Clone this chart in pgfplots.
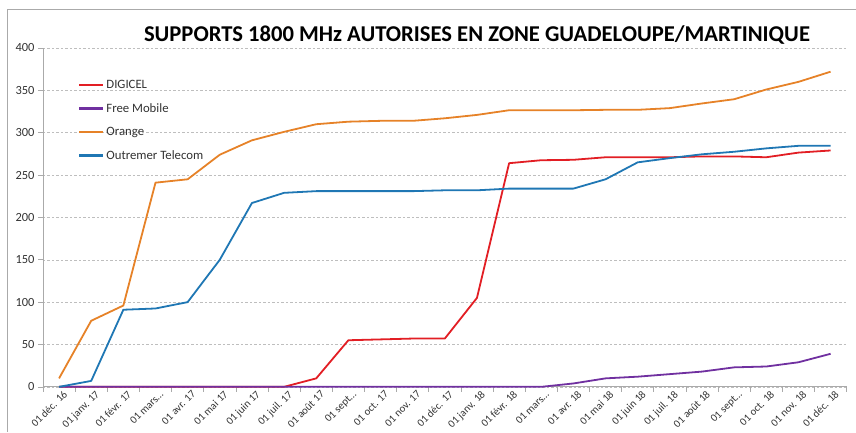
\documentclass[border=0pt]{standalone}
\usepackage{pgfplots}
\pgfplotsset{compat=1.18}
\usepackage{fontspec}
\setmainfont{Carlito}
\usetikzlibrary{calc}
\definecolor{cDig}{RGB}{226,30,36}
\definecolor{cFree}{RGB}{112,48,160}
\definecolor{cOr}{RGB}{230,130,40}
\definecolor{cOut}{RGB}{31,119,180}
\definecolor{cAx}{RGB}{170,170,170}
\definecolor{cGrid}{RGB}{190,190,190}
\definecolor{cTxt}{RGB}{50,50,50}
\pgfplotstableread{
i dig free or out
0 0 0 10 0
1 0 0 78 7
2 0 0 96 91
3 0 0 241 92.5
4 0 0 245 100
5 0 0 274 150
6 0 0 291 217
7 0 0 301 229
8 10 0 310 231
9 55 0 313 231
10 56 0 314 231
11 57 0 314 231
12 57 0 317 232
13 105 0 321 232
14 264 0 326.5 234
15 267.5 0 326.5 234
16 268 4 326.5 234
17 271 10 327 245
18 271 12 327 265
19 271 15 329 270
20 272 18 334.5 274.5
21 272 23 339.5 277.5
22 271 24 351 281.5
23 276.5 29 360 284.5
24 279 39 372 284.5
}\data
\begin{document}
\begin{tikzpicture}
\begin{axis}[
  scale only axis,
  width=804bp, height=339bp,
  xmin=-0.5, xmax=24.5,
  ymin=0, ymax=400,
  ytick={0,50,...,400},
  xtick={0,...,24},
  xticklabels={{01 déc. 16},{01 janv. 17},{01 févr. 17},{01 mars…},{01 avr. 17},{01 mai 17},{01 juin 17},{01 juil. 17},{01 août 17},{01 sept…},{01 oct. 17},{01 nov. 17},{01 déc. 17},{01 janv. 18},{01 févr. 18},{01 mars…},{01 avr. 18},{01 mai 18},{01 juin 18},{01 juil. 18},{01 août 18},{01 sept…},{01 oct. 18},{01 nov. 18},{01 déc. 18}},
  minor xtick={-0.5,0.5,...,24.5},
  major x tick style={draw=none},
  minor x tick style={draw=cAx, line width=0.6bp},
  y tick style={draw=cAx, line width=0.6bp},
  tick align=outside,
  major tick length=5bp,
  minor tick length=5bp,
  axis x line*=bottom,
  axis y line*=left,
  axis line style={draw=cAx, line width=0.7bp, -},
  ymajorgrids,
  grid style={draw=cGrid, dash pattern=on 2.5bp off 2bp, line width=0.5bp},
  x tick label style={rotate=45, anchor=north east, font=\fontsize{10.8}{12}\selectfont, text=cTxt, inner sep=1bp, xshift=5bp},
  y tick label style={font=\fontsize{12.5}{14}\selectfont, text=cTxt},
  /pgf/number format/assume math mode=true,
  legend style={draw=none, fill=none, at={(rel axis cs:0.0435,0.912)}, anchor=north west,
    font=\fontsize{12.8}{14}\selectfont, text=cTxt, row sep=9.5bp, inner sep=0pt},
  legend cell align=left,
  legend image code/.code={\draw[#1, line width=2.3bp] (0bp,0bp) -- (24bp,0bp);},
  every axis plot/.append style={line width=1.8bp, line join=round},
  clip=false,
]
\addplot[cDig] table[x=i,y=dig]{\data};
\addlegendentry{DIGICEL}
\addplot[cFree] table[x=i,y=free]{\data};
\addlegendentry{Free Mobile}
\addplot[cOr] table[x=i,y=or]{\data};
\addlegendentry{Orange}
\addplot[cOut] table[x=i,y=out]{\data};
\addlegendentry{Outremer Telecom}
\coordinate (ll) at (rel axis cs:0,0);
\coordinate (ur) at (rel axis cs:1,1);
\node[anchor=base, font=\fontsize{22.7}{26}\selectfont\bfseries, text=black] at ($(rel axis cs:0.52,1)+(0,6bp)$) {SUPPORTS 1800 MHz AUTORISES EN ZONE GUADELOUPE/MARTINIQUE};
\end{axis}
\pgfresetboundingbox
\path ($(ll)+(-43bp,-45bp)$) rectangle ($(ur)+(9bp,48bp)$);
\draw[cAx, line width=0.7bp] ($(ll)+(-36bp,-45bp)$) -- ($(ll|-ur)+(-36bp,39bp)$) -- ($(ur)+(9bp,39bp)$);
\end{tikzpicture}
\end{document}
